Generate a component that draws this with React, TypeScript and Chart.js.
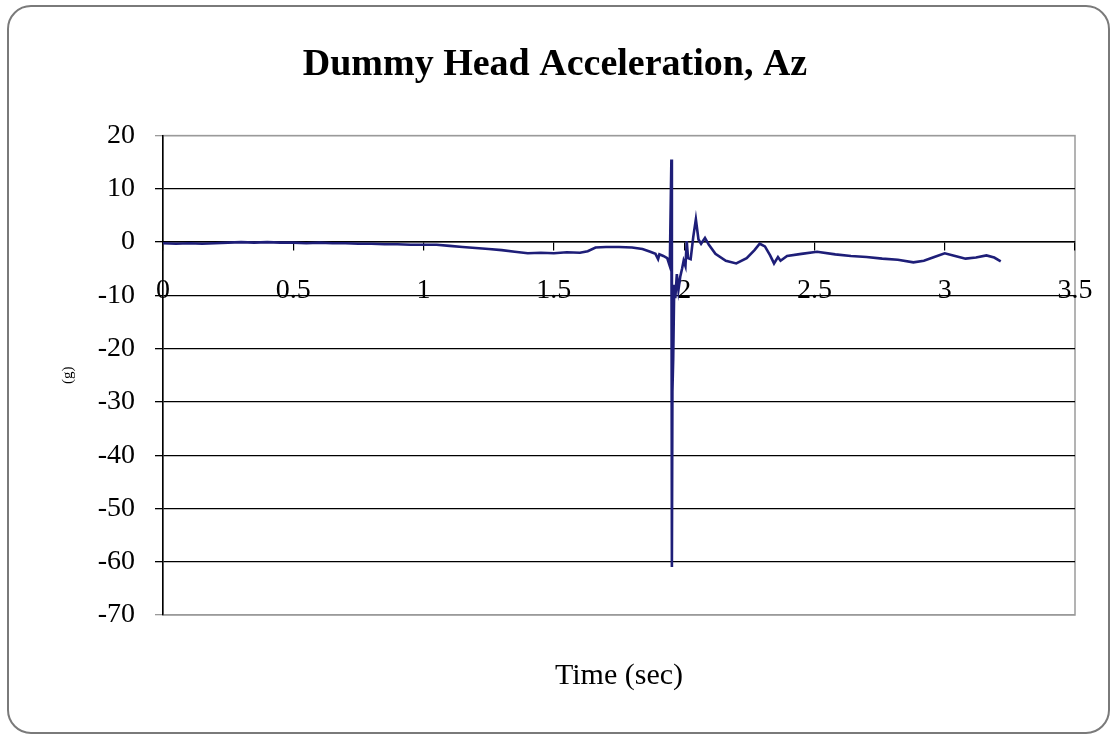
import React, { useEffect, useRef } from "react";
import { Chart, registerables } from "chart.js";

Chart.register(...registerables);

const chartTitle = "Dummy Head Acceleration, Az";
const xAxisTitle = "Time (sec)";
const yAxisTitle = "(g)";

const timeSec: number[] = [
  0, 0.05, 0.1, 0.15, 0.2, 0.25, 0.3, 0.35, 0.4, 0.45, 0.5, 0.55, 0.6, 0.65, 0.7, 0.75, 0.8, 0.85, 0.9, 0.95,
  1.0, 1.05, 1.1, 1.15, 1.2, 1.25, 1.3, 1.35, 1.4, 1.45, 1.5, 1.55, 1.6, 1.63, 1.66, 1.7, 1.75, 1.8, 1.84, 1.87,
  1.89, 1.9, 1.905, 1.92, 1.935, 1.945, 1.951, 1.953, 1.955, 1.958, 1.962, 1.966, 1.972, 1.978, 1.985, 1.992,
  1.998, 2.005, 2.01, 2.015, 2.025, 2.035, 2.045, 2.055, 2.065, 2.08, 2.095, 2.12, 2.16, 2.2, 2.24, 2.27, 2.29,
  2.31, 2.33, 2.345, 2.36, 2.37, 2.395, 2.45, 2.51, 2.58, 2.64, 2.7, 2.76, 2.82, 2.88, 2.92, 2.96, 3.0, 3.04,
  3.08, 3.12, 3.16, 3.19, 3.215,
];

const accelG: number[] = [
  -0.2, -0.3, -0.2, -0.3, -0.2, -0.1, 0.0, -0.1, 0.0, -0.1, -0.1, -0.2, -0.1, -0.2, -0.2, -0.3, -0.3, -0.4, -0.4, -0.5,
  -0.5, -0.5, -0.7, -0.9, -1.1, -1.3, -1.5, -1.8, -2.1, -2.0, -2.1, -1.9, -2.0, -1.7, -1.0, -0.9, -0.9, -1.0, -1.3, -1.8,
  -2.2, -3.2, -2.3, -2.6, -3.0, -4.5, 15.5, -61, -28, -22, -8, -10.5, -6, -9, -6.5, -5,
  -3.5, -4.5, 0.2, -3, -3.2, 1, 4.3, 0.5, -0.3, 0.8, -0.5, -2.2, -3.5, -4, -3, -1.5, -0.3,
  -0.8, -2.5, -4, -2.8, -3.5, -2.6, -2.2, -1.8, -2.3, -2.6, -2.8, -3.1, -3.3, -3.8, -3.5, -2.8, -2.1, -2.6,
  -3.1, -2.9, -2.5, -2.9, -3.6,
];

const xMin = 0;
const xMax = 3.5;
const xStep = 0.5;
const yMin = -70;
const yMax = 20;
const yStep = 10;

const serif = "'Liberation Serif', 'Times New Roman', serif";

const plotBorder = {
  id: "plotBorder",
  beforeDraw(chart: any) {
    const { ctx, chartArea } = chart;
    ctx.save();
    ctx.strokeStyle = "#9a9a9a";
    ctx.lineWidth = 1.5;
    ctx.strokeRect(chartArea.left, chartArea.top, chartArea.right - chartArea.left, chartArea.bottom - chartArea.top);
    ctx.restore();
  },
};

export default function App() {
  const canvasRef = useRef<HTMLCanvasElement | null>(null);

  useEffect(() => {
    if (!canvasRef.current) return;
    const points = timeSec.map((t, i) => ({ x: t, y: accelG[i] }));
    const chart = new Chart(canvasRef.current, {
      type: "line",
      data: {
        datasets: [
          {
            data: points,
            borderColor: "#1e1e78",
            borderWidth: 2.6,
            pointRadius: 0,
            tension: 0,
            fill: false,
          },
        ],
      },
      options: {
        animation: false,
        responsive: false,
        devicePixelRatio: 1,
        layout: { padding: { left: 35, right: 37, top: 0, bottom: 0 } },
        plugins: {
          legend: { display: false },
          tooltip: { enabled: false },
          title: {
            display: true,
            text: chartTitle,
            color: "#000",
            font: { family: serif, size: 38, weight: "bold" },
            padding: { top: 42, bottom: 48 },
          },
          subtitle: {
            display: true,
            position: "bottom",
            text: "",
            padding: { top: 0, bottom: 121 - 16.8 },
            font: { size: 14 },
          },
        },
        scales: {
          x: {
            type: "linear",
            position: { y: 0 } as any,
            min: xMin,
            max: xMax,
            ticks: {
              stepSize: xStep,
              color: "#000",
              font: { family: serif, size: 28 },
              padding: 24,
              maxRotation: 0,
              autoSkip: false,
              callback: (v: any) => String(Math.round(Number(v) * 10) / 10),
            },
            grid: { drawOnChartArea: false, drawTicks: true, tickLength: 8, color: "#000", lineWidth: 1.2 },
            border: { display: true, color: "#000", width: 1.5 },
            title: {
              display: true,
              text: xAxisTitle,
              color: "#000",
              font: { family: serif, size: 30 },
              padding: { top: 0, bottom: 0 },
            },
            afterFit: (scale: any) => {
              scale.height = 452;
              scale.paddingLeft = 0;
              scale.paddingRight = 0;
            },
          },
          y: {
            type: "linear",
            position: "left",
            min: yMin,
            max: yMax,
            ticks: {
              stepSize: yStep,
              color: "#000",
              font: { family: serif, size: 28 },
              padding: 20,
            },
            grid: {
              drawTicks: true,
              tickLength: 8,
              lineWidth: 1.3,
              color: (c: any) => (c.tick && (c.tick.value === yMax || c.tick.value === yMin) ? "#9a9a9a" : "#000"),
            },
            border: { display: true, color: "#000", width: 1.5 },
            title: {
              display: true,
              text: yAxisTitle,
              color: "#000",
              font: { family: serif, size: 15 },
              padding: { top: 24, bottom: 0 },
            },
            afterFit: (scale: any) => {
              scale.width = 128;
            },
          },
        },
      },
      plugins: [plotBorder],
    });
    return () => chart.destroy();
  }, []);

  return (
    <div style={{ position: "fixed", left: 0, top: 0, width: 1112, height: 736, background: "#fff" }}>
      <canvas ref={canvasRef} width={1112} height={736} style={{ position: "absolute", left: 0, top: 0 }} />
      <div
        style={{
          position: "absolute",
          left: 7,
          top: 5,
          width: 1103,
          height: 729,
          boxSizing: "border-box",
          border: "2px solid #7a7a7a",
          borderRadius: 24,
          pointerEvents: "none",
        }}
      />
    </div>
  );
}
